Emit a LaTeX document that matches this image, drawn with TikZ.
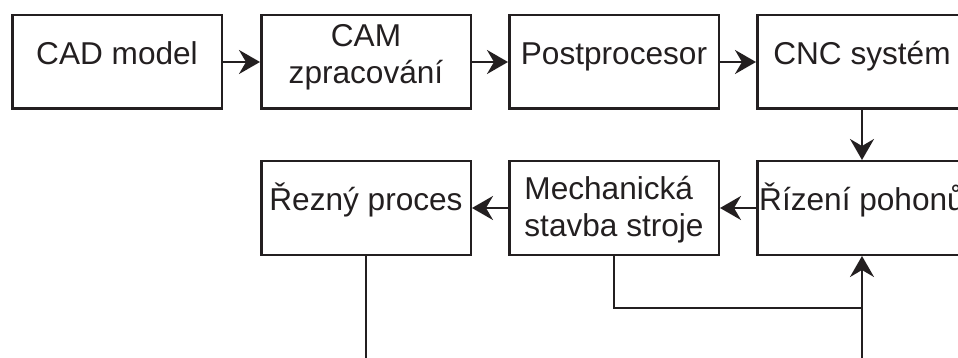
\documentclass[tikz,border=0pt]{standalone}
\usepackage{fontspec}
\setmainfont{Liberation Sans}
\usetikzlibrary{arrows.meta}
\definecolor{ink}{HTML}{231F20}
\begin{document}
\begin{tikzpicture}[x=1pt,y=-1pt,
  block/.style={draw=ink, text=ink, line width=2.5pt, rectangle,
    minimum width=209.5pt, minimum height=93.5pt, inner sep=0pt,
    font=\fontsize{31.6}{36.6}\selectfont},
  oneline/.style={text height=0.72em, text depth=0.28em},
  flow/.style={draw=ink, line width=2.5pt,
    -{Stealth[length=21pt, width=24pt, inset=7pt]}},
  wire/.style={draw=ink, line width=2.5pt}]
\useasboundingbox (0,0) rectangle (958,358);
\clip (0,0) rectangle (958,358);

% upper row
\node[block, oneline] (cad)  at (117,62) {CAD model};
\node[block, align=center, text depth=15.6pt] (cam) at (366,62) {CAM\\zpracování};
\node[block, oneline] (post) at (614,62) {Postprocesor};
\node[block, oneline] (cnc)  at (862,62) {CNC systém};

% lower row
\node[block, oneline] (rez)  at (366,208) {Řezný proces};
\node[block, align=left, text depth=3.2pt] (mech) at (614,208) {Mechanická\\stavba stroje};
\node[block, oneline] (riz)  at (862,208) {Řízení pohonů};

% forward chain
\draw[flow] (cad) -- (cam);
\draw[flow] (cam) -- (post);
\draw[flow] (post) -- (cnc);
\draw[flow] (cnc) -- (riz);
\draw[flow] (riz) -- (mech);
\draw[flow] (mech) -- (rez);

% feedback to the drive control
\coordinate (join) at (862,308);
\coordinate (loopl) at (366,420);
\coordinate (loopr) at (862,420);
\draw[wire] (mech.south) |- (join);
\draw[flow] (rez.south) -- (loopl) -- (loopr) -- (riz.south);
\end{tikzpicture}
\end{document}
